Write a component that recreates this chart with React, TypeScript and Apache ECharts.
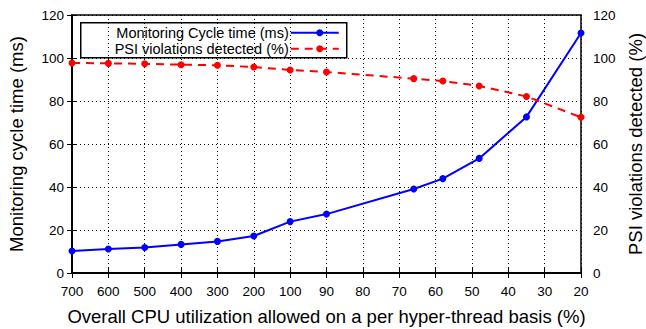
import React, { useEffect, useRef } from "react";
import * as echarts from "echarts";

const xValues = [700, 600, 500, 400, 300, 200, 100, 90, 66, 58, 48, 35, 20];
const cycleTime = [10.2, 11.2, 11.9, 13.3, 14.7, 17.2, 23.9, 27.4, 39.1, 43.9, 53.3, 72.6, 111.6];
const psiDetected = [97.7, 97.5, 97.3, 96.9, 96.6, 95.8, 94.4, 93.5, 90.4, 89.3, 87.0, 82.1, 72.4];
const xTickLabels = ["700", "600", "500", "400", "300", "200", "100", "90", "80", "70", "60", "50", "40", "30", "20"];
const seriesNames = ["Monitoring Cycle time (ms)", "PSI violations detected (%)"];

// piecewise axis: 100-steps above 100, 10-steps below 100
const pos = (v: number) => (v >= 100 ? (700 - v) / 100 : 6 + (100 - v) / 10);

const FONT = "Liberation Sans, Arial, Helvetica, sans-serif";

export default function App() {
  const ref = useRef<HTMLDivElement>(null);
  useEffect(() => {
    if (!ref.current) return;
    const chart = echarts.init(ref.current, null, { renderer: "svg" });
    const gridLine = { show: true, lineStyle: { color: "#000", type: [1, 3] as any, width: 1 } };
    const tick = { show: true, inside: true, length: 5, lineStyle: { color: "#000", width: 1 } };
    const axisLine = { show: true, lineStyle: { color: "#000", width: 1.5 } };
    const label = { color: "#000", fontFamily: FONT, fontSize: 13.5 };
    const nameStyle = { color: "#000", fontFamily: FONT, fontSize: 18.5 };
    chart.setOption({
      animation: false,
      textStyle: { fontFamily: FONT },
      grid: {
        left: 72,
        right: 65,
        top: 15,
        bottom: 56,
        show: true,
        borderColor: "#000",
        borderWidth: 1.5,
        containLabel: false,
        outerBoundsMode: "none",
      },
      xAxis: [
        {
          type: "value",
          min: 0,
          max: 14,
          interval: 1,
          position: "bottom",
          axisLine,
          axisTick: tick,
          splitLine: gridLine,
          axisLabel: { ...label, margin: 11, formatter: (v: number) => xTickLabels[Math.round(v)] ?? "" },
          name: "Overall CPU utilization allowed on a per hyper-thread basis (%)",
          nameLocation: "middle",
          nameGap: 34,
          nameTextStyle: nameStyle,
        },
        {
          type: "value",
          min: 0,
          max: 14,
          interval: 1,
          position: "top",
          axisLine,
          axisTick: tick,
          splitLine: { show: false },
          axisLabel: { show: false },
        },
      ],
      yAxis: [
        {
          type: "value",
          min: 0,
          max: 120,
          interval: 20,
          position: "left",
          axisLine,
          axisTick: tick,
          splitLine: gridLine,
          axisLabel: { ...label, margin: 8 },
          name: "Monitoring cycle time (ms)",
          nameLocation: "middle",
          nameGap: 46,
          nameTextStyle: nameStyle,
        },
        {
          type: "value",
          min: 0,
          max: 120,
          interval: 20,
          position: "right",
          axisLine,
          axisTick: tick,
          splitLine: { show: false },
          axisLabel: { ...label, margin: 12 },
          name: "PSI violations detected (%)",
          nameLocation: "middle",
          nameGap: 44,
          nameTextStyle: nameStyle,
        },
      ],
      series: [
        {
          name: seriesNames[0],
          type: "line",
          xAxisIndex: 0,
          yAxisIndex: 0,
          data: xValues.map((v, i) => [pos(v), cycleTime[i]]),
          symbol: "circle",
          symbolSize: 7,
          itemStyle: { color: "#0000ff" },
          lineStyle: { color: "#0000ff", width: 2 },
          z: 3,
        },
        {
          name: seriesNames[1],
          type: "line",
          xAxisIndex: 0,
          yAxisIndex: 1,
          data: xValues.map((v, i) => [pos(v), psiDetected[i]]),
          symbol: "circle",
          symbolSize: 7,
          itemStyle: { color: "#ff0000" },
          lineStyle: { color: "#ff0000", width: 2, type: [8, 6] as any },
          z: 3,
        },
      ],
      graphic: [
        {
          type: "group",
          left: 80,
          top: 22,
          z: 10,
          children: [
            { type: "rect", shape: { x: 0, y: 0, width: 266, height: 35 }, style: { fill: "#fff", stroke: "#000", lineWidth: 1.5 } },
            { type: "text", x: 208, y: 10, style: { text: seriesNames[0], textAlign: "right", textVerticalAlign: "middle", font: `14.5px ${FONT}`, fill: "#000" } },
            { type: "text", x: 208, y: 26, style: { text: seriesNames[1], textAlign: "right", textVerticalAlign: "middle", font: `14.5px ${FONT}`, fill: "#000" } },
            { type: "line", shape: { x1: 210, y1: 10, x2: 258, y2: 10 }, style: { stroke: "#0000ff", lineWidth: 2 } },
            { type: "circle", shape: { cx: 239, cy: 10, r: 3.5 }, style: { fill: "#0000ff" } },
            { type: "line", shape: { x1: 210, y1: 26, x2: 258, y2: 26 }, style: { stroke: "#ff0000", lineWidth: 2, lineDash: [8, 6] } },
            { type: "circle", shape: { cx: 239, cy: 26, r: 3.5 }, style: { fill: "#ff0000" } },
          ],
        },
      ],
    });
    return () => chart.dispose();
  }, []);
  return <div ref={ref} style={{ width: 646, height: 329, position: "absolute", left: 0, top: 0, background: "#fff" }} />;
}
